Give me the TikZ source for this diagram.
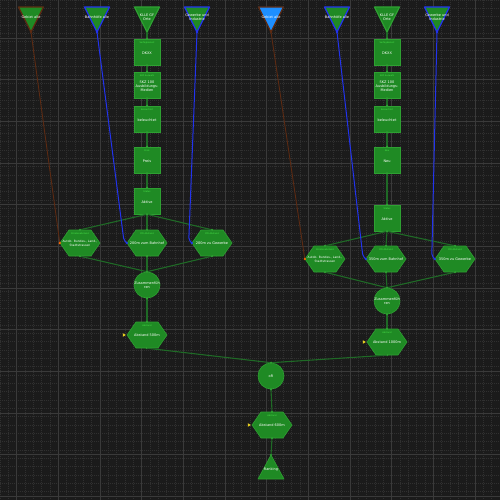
\documentclass[tikz,border=0pt]{standalone}
\usepackage{fontspec}
\setmainfont{DejaVu Sans}
\usetikzlibrary{calc}
\definecolor{bgc}{HTML}{1B1B1B}
\definecolor{majg}{HTML}{3A3A3A}
\definecolor{ming}{HTML}{303030}
\definecolor{ngreen}{HTML}{1F8A24}
\definecolor{nborder}{HTML}{2EA032}
\definecolor{lgreen}{HTML}{1F6A26}
\definecolor{hdrc}{HTML}{4CE84C}
\definecolor{bluel}{HTML}{2233EE}
\definecolor{brownl}{HTML}{5C2A12}
\definecolor{tblue}{HTML}{1E8FFF}
\definecolor{yel}{HTML}{E8D020}
\tikzset{
  boxs/.style={draw=nborder, fill=ngreen, line width=0.6pt, minimum width=26pt, minimum height=26pt, inner sep=0pt},
  circs/.style={circle, draw=nborder, fill=ngreen, line width=0.6pt, minimum size=26pt, inner sep=0pt},
  hexs/.style={draw=nborder, fill=ngreen, line width=0.6pt},
  txt/.style={text=white, align=center, inner sep=0pt, font=\fontsize{3.5}{4.1}\selectfont},
  hdr/.style={text=hdrc, inner sep=0pt, font=\fontsize{2.2}{2.6}\selectfont},
  gline/.style={draw=lgreen, line width=1.1pt},
  bline/.style={draw=bluel, line width=1pt, rounded corners=2pt},
  rline/.style={draw=brownl, line width=0.9pt},
}
\newcommand\boxn[5]{%
  \node[boxs] (#1) at (#2,#3) {};
  \node[hdr] at (#2,#3-9) {#4};
  \node[txt] at (#2,#3+1) {#5};}
\newcommand\hexn[5]{%
  \path[hexs] (#2-20,#3) -- (#2-11,#3-13) -- (#2+11,#3-13) -- (#2+20,#3) -- (#2+11,#3+13) -- (#2-11,#3+13) -- cycle;
  \node[inner sep=0pt, minimum width=40pt, minimum height=26pt] (#1) at (#2,#3) {};
  \node[hdr] at (#2,#3-9) {#4};
  \node[txt] at (#2,#3+0.5) {#5};}
\newcommand\trin[6]{%
  \path[fill=#3, draw=#4, line width=1.2pt, line join=round] (#2-12.5,7) -- (#2+12.5,7) -- (#2,32) -- cycle;
  \node[txt] (#1t) at (#2,17) {#5};
  \coordinate (#1) at (#2,32);
  \fill[#6] (#1) circle (1.4pt);}
\newcommand\smalltxt{\fontsize{3}{3.6}\selectfont}
\begin{document}
\begin{tikzpicture}[x=1pt,y=-1pt]
\useasboundingbox (0,0) rectangle (500,500);
\fill[bgc] (0,0) rectangle (500,500);
\foreach \i in {0,...,60} {
  \draw[ming, line width=0.5pt, dash pattern=on 0.6pt off 1.4pt] (\i*8.333,0) -- (\i*8.333,500);
  \draw[ming, line width=0.5pt, dash pattern=on 0.6pt off 1.4pt] (0,\i*8.333) -- (500,\i*8.333);
}
\foreach \i in {0,...,12} {
  \draw[majg, line width=0.6pt] (16.7+\i*41.667,0) -- (16.7+\i*41.667,500);
  \draw[majg, line width=0.6pt] (0,-3.7+\i*41.667) -- (500,-3.7+\i*41.667);
}

% ---------- left column ----------
\trin{lga}{31}{ngreen}{brownl}{Gebiet alle}{brownl}
\trin{lba}{97}{ngreen}{bluel}{Bahnhöfe alle}{bluel}
\trin{lko}{147}{ngreen}{nborder}{KLLE GF\\Orte}{nborder}
\trin{lgi}{197}{ngreen}{bluel}{Gewerbe und\\Industrie}{bluel}

\boxn{l1}{147}{52}{Verfügbarkeit}{DKXX}
\boxn{l2}{147}{85}{SKZ Auswahl}{SKZ 100\\Ausbildungs-\\Medien}
\boxn{l3}{147}{119}{Beleuchtet}{beleuchtet}
\boxn{l4}{147}{160}{Preis}{Preis}
\boxn{l5}{147}{201}{Status}{Aktive}

\hexn{lh1}{80}{243}{Straßenabstand}{\smalltxt Autob. Bundes-, Land-,\\\smalltxt Stadtstrassen}
\hexn{lh2}{147}{243}{POI Abstand}{200m zum Bahnhof}
\hexn{lh3}{212}{243}{POI Abstand}{200m zu Gewerbe}

\node[circs] (lz) at (147,285) {};
\node[txt] at (147,285) {Zusammenfüh\\ren};
\hexn{la}{147}{335}{Abstand}{Abstand 500m}

% ---------- right column ----------
\trin{rga}{271}{tblue}{brownl}{Gebiet alle}{brownl}
\trin{rba}{337}{ngreen}{bluel}{Bahnhöfe alle}{bluel}
\trin{rko}{387}{ngreen}{nborder}{KLLE GF\\Orte}{nborder}
\trin{rgi}{437}{ngreen}{bluel}{Gewerbe und\\Industrie}{bluel}

\boxn{r1}{387}{52}{Verfügbarkeit}{DKXX}
\boxn{r2}{387}{85}{SKZ Auswahl}{SKZ 100\\Ausbildungs-\\Medien}
\boxn{r3}{387}{119}{Beleuchtet}{beleuchtet}
\boxn{r4}{387}{160}{Neu}{Neu}
\boxn{r5}{387}{218}{Status}{Aktive}

\hexn{rh1}{325}{259}{Straßenabstand}{\smalltxt Autob. Bundes-, Land-,\\\smalltxt Stadtstrassen}
\hexn{rh2}{386}{259}{POI Abstand}{350m zum Bahnhof}
\hexn{rh3}{455}{259}{POI Abstand}{350m zu Gewerbe}

\node[circs] (rz) at (387,301) {};
\node[txt] at (387,301) {Zusammenfüh\\ren};
\hexn{ra}{387}{342}{Abstand}{Abstand 1000m}

% ---------- bottom ----------
\node[circs] (oR) at (271,376) {};
\node[txt] at (271,376) {oR};
\hexn{ab}{272}{425}{Abstand}{Abstand 600m}
\path[fill=ngreen, draw=nborder, line width=0.6pt, line join=round] (258,479) -- (271,455) -- (284,479) -- cycle;
\coordinate (rk) at (271,455);
\node[txt] at (271,470) {Ranking};

% ---------- connectors ----------
\foreach \c in {l,r} {
  \draw[gline] (\c ko) -- (\c1.north);
  \draw[gline] (\c1.south) -- (\c2.north);
  \draw[gline] (\c2.south) -- (\c3.north);
  \draw[gline] (\c3.south) -- (\c4.north);
  \draw[gline] (\c4.south) -- (\c5.north);
  \foreach \h in {h1,h2,h3} {
    \draw[gline] (\c5.south) -- (\c\h.north);
    \draw[gline] (\c\h.south) -- (\c z.north);
    \fill[nborder] (\c\h.north) circle (1.2pt);
    \fill[nborder] (\c\h.south) circle (1.2pt);
  }
  \draw[gline] (\c z.south) -- (\c a.north);
  \foreach \n in {1,2,3,4,5} {
    \fill[nborder] (\c\n.north) circle (1.2pt);
    \fill[nborder] (\c\n.south) circle (1.2pt);
  }
  \fill[nborder] (\c z.north) circle (1.2pt);
  \fill[nborder] (\c z.south) circle (1.2pt);
  \fill[nborder] (\c a.north) circle (1.2pt);
  \fill[nborder] (\c a.south) circle (1.2pt);
  \draw[rline] (\c ga) -- (\c h1.west);
  \fill[orange!80!red] (\c h1.west) circle (1.3pt);
  \draw[bline] (\c ba) -- ([xshift=-3pt,yshift=3pt]\c h2.west) -- (\c h2.west);
  \fill[bluel] (\c h2.west) circle (1.3pt);
  \draw[bline] (\c gi) -- ([xshift=-3pt,yshift=3pt]\c h3.west) -- (\c h3.west);
  \fill[bluel] (\c h3.west) circle (1.3pt);
  \fill[yel] ([xshift=-1pt]\c a.west) -- ++(-3,-1.8) -- ++(0,3.6) -- cycle;
}
\draw[gline] (la.south) -- (oR.north);
\draw[gline] (ra.south) -- (oR.north);
\draw[gline] (oR.south) -- (ab.north);
\draw[gline] (ab.south) -- (rk);
\fill[yel] ([xshift=-1pt]ab.west) -- ++(-3,-1.8) -- ++(0,3.6) -- cycle;
\foreach \p in {oR.north, oR.south, ab.north, ab.south, rk} \fill[nborder] (\p) circle (1.2pt);
\end{tikzpicture}
\end{document}
